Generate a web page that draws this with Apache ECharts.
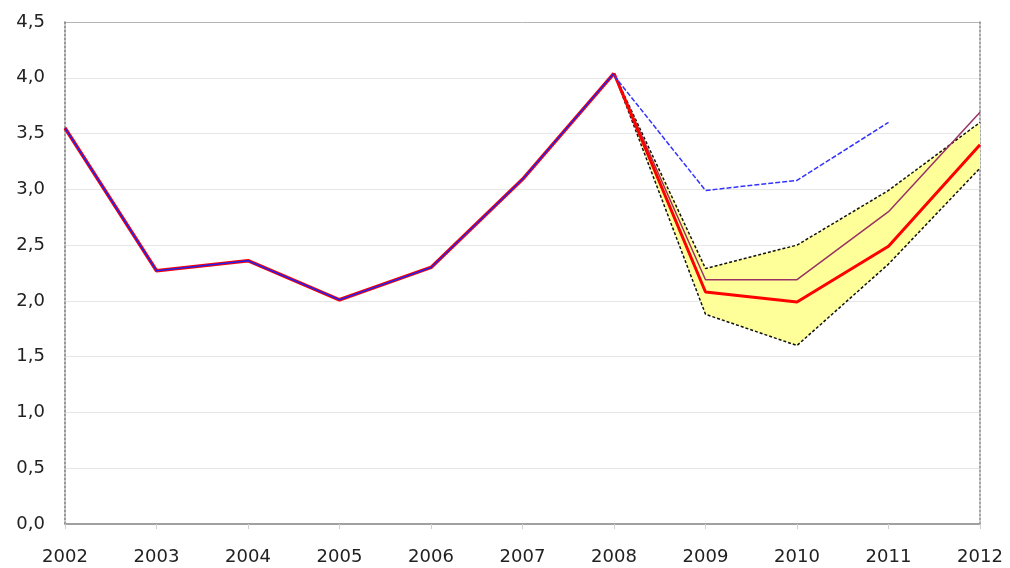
<!DOCTYPE html>
<html><head><meta charset="utf-8">
<script src="https://cdn.jsdelivr.net/npm/echarts@6/dist/echarts.min.js"></script>
<style>html,body{margin:0;padding:0;background:#fff}#c{width:1010px;height:568px}</style>
</head><body><div id="c"></div>
<script>
const years = ['2002','2003','2004','2005','2006','2007','2008','2009','2010','2011','2012'];
const history = [3.55, 2.27, 2.36, 2.01, 2.30, 3.09, 4.04, null, null, null, null];
const forecastRed = [null, null, null, null, null, null, 4.04, 2.08, 1.99, 2.49, 3.40];
const forecastPurple = [null, null, null, null, null, null, 4.04, 2.19, 2.19, 2.80, 3.69];
const forecastBlue = [null, null, null, null, null, null, 4.02, 2.99, 3.08, 3.60, null];
const bandUpper = [null, null, null, null, null, null, 4.04, 2.29, 2.50, 2.99, 3.60];
const bandLower = [null, null, null, null, null, null, 4.04, 1.88, 1.60, 2.33, 3.19];
const yTicks = [0, 0.5, 1, 1.5, 2, 2.5, 3, 3.5, 4, 4.5];

const bandDiff = bandUpper.map((u, i) => (u == null || bandLower[i] == null) ? null : +(u - bandLower[i]).toFixed(3));
const font = 'DejaVu Sans, sans-serif';
const gridColors = yTicks.map((v, i) => i === yTicks.length - 1 ? '#b4b4b4' : '#e6e6e6');

const chart = echarts.init(document.getElementById('c'), null, {renderer: 'canvas'});
chart.setOption({
  animation: false,
  backgroundColor: '#fff',
  grid: {left: 65, right: 30, top: 22, bottom: 44, show: false},
  xAxis: {
    type: 'category', data: years, boundaryGap: false,
    axisLine: {lineStyle: {color: '#a0a0a0', width: 2}},
    axisTick: {show: true, length: 5, lineStyle: {color: '#d0d0d0'}},
    axisLabel: {color: '#222', fontFamily: font, fontSize: 18, margin: 24}
  },
  yAxis: [{
    type: 'value', min: 0, max: 4.5, interval: 0.5,
    axisLine: {show: true, lineStyle: {color: '#777', width: 1.5, type: [2, 2]}},
    axisTick: {show: false},
    splitLine: {show: true, lineStyle: {color: gridColors, width: 1}},
    axisLabel: {color: '#222', fontFamily: font, fontSize: 18, margin: 20,
      formatter: v => yTicks.indexOf(v) >= 0 ? v.toFixed(1).replace('.', ',') : ''}
  }, {
    type: 'value', min: 0, max: 4.5, interval: 0.5, position: 'right',
    axisLine: {show: true, lineStyle: {color: '#888', width: 1.5, type: [2, 2]}},
    axisTick: {show: false}, axisLabel: {show: false}, splitLine: {show: false}
  }],
  series: [
    {type: 'line', data: bandLower, stack: 'band', symbol: 'none', lineStyle: {opacity: 0}, areaStyle: {opacity: 0}, silent: true},
    {type: 'line', data: bandDiff, stack: 'band', symbol: 'none', lineStyle: {opacity: 0}, areaStyle: {color: '#ffff99', opacity: 1}, silent: true},
    {type: 'line', data: bandUpper, symbol: 'none', lineStyle: {color: '#111', width: 1.5, type: [3, 2]}},
    {type: 'line', data: bandLower, symbol: 'none', lineStyle: {color: '#111', width: 1.5, type: [3, 2]}},
    {type: 'line', data: forecastPurple, symbol: 'none', lineStyle: {color: '#993366', width: 1.5}},
    {type: 'line', data: forecastRed, symbol: 'none', lineStyle: {color: '#ff0000', width: 3}},
    {type: 'line', data: forecastBlue, symbol: 'none', lineStyle: {color: '#3333ff', width: 1.5, type: [5, 2]}},
    {type: 'line', data: history, symbol: 'none', lineStyle: {color: '#ff0000', width: 3.5}},
    {type: 'line', data: history, symbol: 'none', lineStyle: {color: '#2222ee', width: 1.5}}
  ]
});
</script></body></html>
